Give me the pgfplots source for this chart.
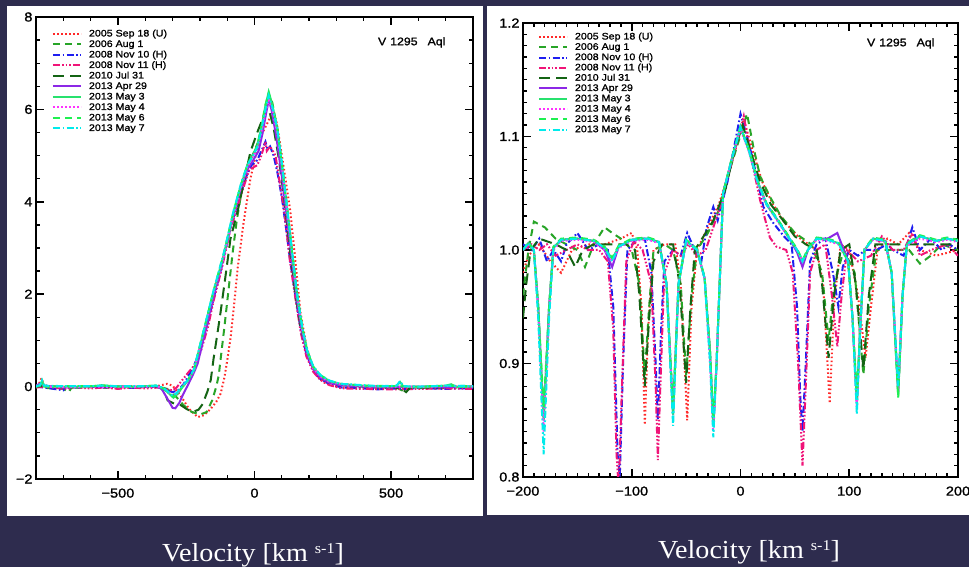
\documentclass[border=0pt]{standalone}
\usepackage{fontspec}
\setmainfont{Liberation Sans}[FakeStretch=1.12, FakeBold=1.3]
\newfontfamily\velfont{Liberation Serif}[FakeStretch=1.08]
\usepackage{pgfplots}
\pgfplotsset{compat=1.18}
\definecolor{bg}{RGB}{46,44,78}
\definecolor{c1}{RGB}{255,40,40}
\definecolor{c2}{RGB}{40,165,40}
\definecolor{c3}{RGB}{30,30,240}
\definecolor{c4}{RGB}{240,20,120}
\definecolor{c5}{RGB}{20,100,20}
\definecolor{c6}{RGB}{140,40,230}
\definecolor{c7}{RGB}{40,225,110}
\definecolor{c8}{RGB}{255,50,255}
\definecolor{c9}{RGB}{30,240,80}
\definecolor{c10}{RGB}{0,235,235}
\newcommand{\legfont}{\fontsize{9.5}{10}\selectfont}
\newcommand{\tickfont}{\fontsize{13}{15}\selectfont}
\tikzset{
 s1/.style={c1, line width=2pt, dash pattern=on 1.6pt off 2.4pt},
 s2/.style={c2, line width=2pt, dash pattern=on 7pt off 5pt},
 s3/.style={c3, line width=2pt, dash pattern=on 7pt off 2.5pt on 1.6pt off 2.5pt},
 s4/.style={c4, line width=2pt, dash pattern=on 7pt off 2pt on 1.6pt off 2pt on 1.6pt off 2pt on 1.6pt off 2pt},
 s5/.style={c5, line width=2pt, dash pattern=on 11pt off 6pt},
 s6/.style={c6, line width=2pt},
 s7/.style={c7, line width=2pt},
 s8/.style={c8, line width=2pt, dash pattern=on 1.6pt off 2.4pt},
 s9/.style={c9, line width=2pt, dash pattern=on 7pt off 5pt},
 s10/.style={c10, line width=2pt, dash pattern=on 7pt off 2.5pt on 1.6pt off 2.5pt},
}
\pgfplotsset{
 idl/.style={
  scale only axis, anchor=south west,
  tick align=inside, xtick pos=both, ytick pos=both,
  major tick length=8pt, minor tick length=4pt,
  major tick style={black, line width=1.6pt},
  minor tick style={black, line width=1.3pt},
  axis line style={black, line width=2pt},
  tick label style={font=\tickfont, black},
  xticklabel style={yshift=-6pt},
  legend cell align=left,
  legend image code/.code={\draw[##1] (0pt,0pt) -- (28pt,0pt);},
  legend style={draw=none, fill=none, anchor=north west, inner sep=0pt, outer sep=0pt,
    row sep=1.5pt, font=\legfont,
    nodes={inner sep=0pt, text height=7pt, text depth=2pt},
    /tikz/every odd column/.append style={column sep=7pt}},
 }
}
\begin{document}
\begin{tikzpicture}
\useasboundingbox (0pt,0pt) rectangle (969pt,567pt);
\fill[bg] (0pt,0pt) rectangle (969pt,567pt);
\fill[white] (7pt,51pt) rectangle (483pt,561pt);
\fill[white] (487pt,52pt) rectangle (969pt,561pt);
% ---------------- left panel ----------------
\begin{axis}[idl, at={(36pt,88pt)}, width=437pt, height=462pt,
  xmin=-800, xmax=800, ymin=-2, ymax=8,
  xtick={-500,0,500}, xticklabels={−500,0,500},
  minor xtick={-800,-700,...,800},
  ytick={-2,0,2,4,6,8}, yticklabels={−2,0,2,4,6,8},
  minor ytick={-2,-1.5,...,8},
  legend style={at={(0,1)}, xshift=16pt, yshift=-12.5pt},
  legend entries={2005 Sep 18 (U),2006 Aug 1,2008 Nov 10 (H),2008 Nov 11 (H),2010 Jul 31,2013 Apr 29,2013 May 3,2013 May 4,2013 May 6,2013 May 7}]
\addplot[s1] coordinates {(-800,0.02) (-790,0.05) (-780,0.18) (-770,0.02) (-740,0.0) (-700,-0.02) (-650,0.0) (-600,-0.02) (-550,0.0) (-500,-0.03) (-450,0.0) (-400,-0.02) (-350,0.02) (-320,0.06) (-300,0.02) (-270,-0.2) (-240,-0.48) (-208,-0.66) (-185,-0.62) (-160,-0.48) (-140,-0.33) (-124,-0.15) (-110,0.2) (-99,0.6) (-88,1.04) (-75,1.75) (-62,2.55) (-40,3.55) (-15,4.5) (10,5.15) (30,5.5) (47,5.7) (66,5.95) (80,5.75) (95,5.2) (112,4.55) (131,3.8) (150,2.7) (168,1.62) (190,0.88) (217,0.32) (250,0.1) (277,0.03) (320,-0.02) (400,-0.02) (500,-0.03) (600,-0.02) (700,-0.03) (800,-0.02)};
\addplot[s2] coordinates {(-800,0) (-780,0.03) (-760,-0.03) (-700,-0.05) (-680,-0.12) (-670,-0.02) (-600,0) (-550,-0.03) (-500,0) (-450,-0.02) (-400,0) (-350,0) (-320,-0.05) (-290,-0.2) (-260,-0.4) (-230,-0.55) (-197,-0.6) (-175,-0.55) (-155,-0.3) (-140,0.0) (-131,0.24) (-124,0.6) (-110,1.3) (-95,2.1) (-80,2.9) (-65,3.6) (-45,4.3) (-25,4.8) (0,5.1) (20,5.4) (38,5.9) (52,6.3) (65,6.15) (83,5.6) (100,4.85) (120,3.85) (140,2.8) (156,2.0) (175,1.25) (193,0.78) (215,0.42) (241,0.22) (275,0.1) (314,0.04) (400,0.0) (460,-0.03) (520,-0.02) (540,-0.08) (560,-0.01) (600,-0.02) (700,0) (800,-0.02)};
\addplot[s3] coordinates {(-800,0) (-770,-0.02) (-700,-0.08) (-690,0.0) (-640,-0.03) (-600,0) (-550,-0.02) (-500,0) (-450,-0.03) (-400,0) (-360,0) (-330,-0.05) (-300,-0.12) (-280,-0.08) (-260,0.05) (-240,0.25) (-222,0.45) (-197,0.8) (-170,1.4) (-150,1.9) (-120,2.6) (-90,3.4) (-60,4.0) (-30,4.55) (-10,4.8) (10,4.9) (25,5.1) (40,5.3) (47,5.15) (57,5.2) (70,5.0) (85,4.6) (100,4.1) (115,3.45) (130,2.75) (150,1.95) (170,1.2) (190,0.7) (215,0.35) (240,0.17) (275,0.05) (320,-0.02) (400,-0.04) (450,-0.06) (500,-0.04) (550,-0.05) (600,-0.03) (700,-0.05) (800,-0.03)};
\addplot[s4] coordinates {(-800,-0.02) (-760,0.0) (-700,-0.05) (-650,-0.02) (-600,-0.04) (-550,-0.02) (-500,-0.05) (-450,-0.02) (-400,-0.04) (-350,-0.02) (-320,-0.06) (-300,-0.08) (-285,-0.02) (-270,0.1) (-250,0.25) (-222,0.45) (-197,0.75) (-170,1.3) (-150,1.85) (-120,2.55) (-90,3.35) (-60,3.95) (-30,4.5) (-19,4.7) (10,4.79) (25,5.0) (40,5.3) (45,5.1) (57,5.2) (77,5.0) (90,4.5) (105,3.95) (113,3.6) (130,2.7) (150,1.9) (170,1.15) (190,0.65) (215,0.32) (240,0.15) (275,0.03) (320,-0.04) (400,-0.05) (500,-0.06) (600,-0.05) (700,-0.04) (800,-0.05)};
\addplot[s5] coordinates {(-800,0) (-760,0.02) (-700,-0.02) (-600,0.0) (-500,0.0) (-400,0.0) (-350,0.0) (-330,-0.1) (-318,-0.3) (-290,-0.38) (-270,-0.4) (-250,-0.48) (-227,-0.55) (-205,-0.5) (-190,-0.38) (-172,-0.1) (-160,0.15) (-150,0.6) (-137,1.1) (-124,1.62) (-106,2.4) (-88,3.2) (-62,3.79) (-40,4.4) (-15,5.08) (10,5.5) (30,5.8) (45,6.05) (55,5.95) (70,5.6) (90,4.9) (110,4.0) (131,2.9) (150,2.0) (170,1.25) (190,0.78) (215,0.4) (241,0.2) (275,0.08) (320,0.03) (400,0.0) (500,0.0) (540,-0.05) (555,-0.12) (570,-0.02) (650,-0.02) (800,0)};
\addplot[s6] coordinates {(-800,0.02) (-780,0.08) (-770,0.02) (-700,-0.02) (-600,0.0) (-500,0.0) (-400,0.0) (-360,0.01) (-340,-0.05) (-320,-0.25) (-300,-0.46) (-290,-0.47) (-275,-0.35) (-260,-0.15) (-245,0.02) (-222,0.3) (-208,0.5) (-190,0.95) (-150,1.95) (-113,2.8) (-76,3.75) (-50,4.3) (-26,4.7) (-5,4.9) (15,5.1) (30,5.5) (42,5.9) (52,6.2) (62,6.0) (80,5.4) (100,4.55) (120,3.6) (140,2.6) (156,1.85) (175,1.15) (193,0.7) (215,0.38) (241,0.2) (275,0.08) (314,0.03) (400,0.0) (500,-0.01) (600,0.0) (700,-0.01) (800,0.0)};
\addplot[s7] coordinates {(-800,0) (-785,0.02) (-778,0.13) (-770,0.01) (-740,-0.01) (-700,0.0) (-650,-0.02) (-600,0.0) (-560,0.03) (-500,0.0) (-450,-0.01) (-400,0.01) (-360,0.02) (-335,-0.04) (-315,-0.14) (-297,-0.24) (-282,-0.16) (-265,-0.02) (-245,0.12) (-222,0.35) (-190,1.1) (-150,2.05) (-113,2.84) (-76,3.79) (-50,4.35) (-26,4.79) (-5,5.02) (10,5.2) (25,5.6) (40,6.08) (52,6.38) (65,6.1) (83,5.58) (100,4.8) (120,3.79) (140,2.75) (156,1.97) (175,1.25) (193,0.76) (215,0.42) (241,0.24) (275,0.12) (314,0.06) (400,0.02) (460,0.0) (520,0.01) (533,0.1) (545,0.0) (600,-0.02) (700,0.02) (720,0.05) (740,-0.01) (800,0.0)};
\addplot[s8] coordinates {(-800,0) (-780,0.06) (-770,0.0) (-700,-0.01) (-600,0.0) (-500,-0.01) (-400,0.0) (-360,0.01) (-335,-0.03) (-315,-0.12) (-297,-0.2) (-282,-0.14) (-265,0.0) (-245,0.13) (-222,0.34) (-190,1.08) (-150,2.02) (-113,2.8) (-76,3.75) (-50,4.3) (-26,4.75) (-5,4.98) (10,5.15) (25,5.5) (40,5.95) (52,6.2) (65,6.0) (83,5.5) (100,4.75) (120,3.75) (140,2.72) (156,1.95) (175,1.22) (193,0.74) (215,0.4) (241,0.22) (275,0.1) (314,0.05) (400,0.01) (500,0.0) (600,-0.01) (700,0.01) (800,0.0)};
\addplot[s9] coordinates {(-800,0) (-785,0.03) (-778,0.12) (-770,0.0) (-700,0.01) (-600,0.01) (-550,0.02) (-500,0.0) (-400,0.01) (-360,0.02) (-335,-0.03) (-315,-0.13) (-297,-0.22) (-282,-0.15) (-265,-0.01) (-245,0.13) (-222,0.36) (-190,1.12) (-150,2.07) (-113,2.86) (-76,3.8) (-50,4.36) (-26,4.8) (-5,5.03) (10,5.22) (25,5.62) (40,6.1) (52,6.35) (65,6.08) (83,5.6) (100,4.82) (120,3.82) (140,2.78) (156,1.99) (175,1.27) (193,0.77) (215,0.43) (241,0.25) (275,0.12) (314,0.06) (400,0.02) (500,0.01) (600,0.0) (700,0.02) (800,0.01)};
\addplot[s10] coordinates {(-800,0.01) (-785,0.03) (-778,0.14) (-770,0.02) (-700,0.01) (-600,0.01) (-560,0.02) (-500,0.01) (-400,0.01) (-360,0.02) (-335,-0.02) (-315,-0.12) (-300,-0.2) (-285,-0.14) (-265,0.0) (-245,0.14) (-222,0.37) (-190,1.12) (-150,2.08) (-113,2.88) (-76,3.82) (-50,4.38) (-26,4.8) (-5,5.0) (10,5.18) (25,5.55) (40,6.0) (52,6.3) (65,6.05) (83,5.6) (100,4.85) (120,3.85) (140,2.8) (156,2.0) (175,1.28) (193,0.78) (215,0.44) (241,0.25) (275,0.13) (314,0.06) (400,0.03) (460,0.01) (520,0.02) (533,0.12) (545,0.01) (600,0.0) (700,0.02) (800,0.01)};
\node[anchor=east, font=\fontsize{11}{12}\selectfont] at (axis cs:712,7.45) {V\hspace{4pt}1295\hspace{10pt}Aql};
\end{axis}
% ---------------- right panel ----------------
\begin{axis}[idl, at={(523pt,90pt)}, width=435pt, height=454pt,
  xmin=-200, xmax=200, ymin=0.8, ymax=1.2,
  xtick={-200,-100,0,100,200}, xticklabels={−200,−100,0,100,200},
  minor xtick={-200,-190,...,200},
  ytick={0.8,0.9,1.0,1.1,1.2}, yticklabels={0.8,0.9,1.0,1.1,1.2},
  minor ytick={0.8,0.81,...,1.2},
  legend style={at={(0,1)}, xshift=15pt, yshift=-9.5pt, row sep=1.3pt},
  legend entries={2005 Sep 18 (U),2006 Aug 1,2008 Nov 10 (H),2008 Nov 11 (H),2010 Jul 31,2013 Apr 29,2013 May 3,2013 May 4,2013 May 6,2013 May 7}]
\addplot[s1] coordinates {(-200,0.98) (-195,0.995) (-185,1.005) (-175,0.99) (-165,0.98) (-155,1.0) (-140,1.005) (-125,1.005) (-110,1.01) (-100,1.015) (-95,1.0) (-91,0.95) (-88,0.846) (-85,0.93) (-80,1.0) (-70,1.005) (-60,1.005) (-55,0.97) (-49,0.85) (-45,0.95) (-40,1.0) (-30,1.02) (-20,1.04) (-10,1.07) (3,1.115) (12,1.085) (20,1.06) (30,1.04) (40,1.025) (55,1.01) (70,1.0) (76,0.97) (82,0.865) (86,0.95) (92,1.005) (100,1.0) (108,0.96) (115,0.905) (120,0.95) (126,1.0) (135,1.01) (145,1.005) (155,1.015) (165,1.0) (180,0.995) (200,1.0)};
\addplot[s2] coordinates {(-200,0.96) (-195,1.0) (-190,1.025) (-180,1.02) (-170,1.01) (-160,1.005) (-150,1.0) (-143,0.985) (-135,1.005) (-125,1.02) (-118,1.015) (-110,1.01) (-100,1.0) (-93,0.97) (-88,0.89) (-84,0.95) (-80,1.0) (-70,1.005) (-62,1.0) (-55,0.97) (-50,0.89) (-45,0.96) (-40,1.0) (-30,1.015) (-20,1.035) (-10,1.07) (6,1.12) (12,1.09) (18,1.065) (27,1.047) (37,1.03) (50,1.015) (65,1.005) (75,0.98) (81,0.92) (86,0.97) (95,1.0) (105,0.98) (113,0.89) (118,0.95) (125,1.0) (140,1.0) (155,1.0) (165,0.988) (175,0.995) (185,1.005) (200,1.0)};
\addplot[s3] coordinates {(-200,1.005) (-192,1.0) (-185,1.01) (-178,0.99) (-172,1.0) (-165,0.99) (-160,1.005) (-150,1.015) (-140,1.0) (-130,1.005) (-122,1.0) (-117,0.95) (-113,0.82) (-111,0.80) (-108,0.9) (-104,1.0) (-95,1.01) (-88,1.01) (-82,0.98) (-78,0.9) (-76,0.85) (-73,0.93) (-70,0.99) (-62,1.0) (-55,0.995) (-49,1.015) (-42,1.0) (-36,0.99) (-31,1.02) (-25,1.038) (-21,1.026) (-12,1.06) (0,1.12) (6,1.1) (12,1.077) (21,1.038) (30,1.024) (40,1.012) (47,1.005) (52,0.95) (55,0.87) (57,0.84) (60,0.9) (64,0.99) (70,1.005) (78,1.01) (85,0.98) (90,0.95) (94,0.985) (100,1.0) (108,0.995) (115,1.0) (125,1.0) (135,1.005) (140,1.0) (150,0.995) (158,1.02) (165,1.0) (175,1.01) (185,1.0) (192,1.005) (200,1.0)};
\addplot[s4] coordinates {(-200,1.0) (-192,1.005) (-185,1.0) (-178,1.005) (-170,0.995) (-160,1.0) (-150,1.005) (-140,1.0) (-130,1.0) (-122,0.99) (-117,0.93) (-114,0.82) (-112,0.79) (-109,0.88) (-105,0.99) (-98,1.008) (-90,1.0) (-82,0.97) (-78,0.88) (-76,0.815) (-73,0.9) (-70,0.98) (-62,1.0) (-55,0.995) (-48,1.005) (-40,0.995) (-32,1.0) (-25,1.02) (-18,1.04) (-10,1.07) (3,1.118) (10,1.08) (18,1.044) (27,1.011) (33,1.003) (42,1.0) (48,0.98) (53,0.9) (57,0.81) (60,0.88) (64,0.98) (70,1.0) (78,1.005) (84,0.96) (89,0.915) (93,0.96) (98,1.0) (108,0.99) (120,0.995) (130,1.012) (140,1.0) (150,1.0) (158,1.015) (165,0.995) (175,1.0) (190,1.005) (200,0.995)};
\addplot[s5] coordinates {(-200,0.94) (-197,0.97) (-193,1.0) (-185,1.01) (-170,1.005) (-160,1.0) (-152,0.985) (-145,1.0) (-135,1.005) (-120,1.005) (-105,1.005) (-97,1.0) (-93,0.96) (-88,0.88) (-84,0.94) (-80,0.99) (-72,1.005) (-62,1.005) (-56,0.97) (-50,0.883) (-46,0.95) (-42,1.0) (-34,1.012) (-25,1.026) (-14,1.053) (-5,1.09) (2,1.11) (10,1.085) (18,1.06) (28,1.04) (40,1.025) (50,1.012) (60,1.005) (70,1.0) (75,0.97) (81,0.905) (86,0.96) (92,1.0) (100,1.005) (106,0.97) (113,0.895) (118,0.96) (124,1.005) (135,1.005) (150,1.005) (165,1.005) (180,1.005) (200,1.005)};
\addplot[s6] coordinates {(-200,1.0) (-195,1.006) (-190,1.0) (-186,0.95) (-181,0.85) (-176,0.95) (-172,1.002) (-165,1.009) (-150,1.01) (-135,1.008) (-125,1.0) (-118,0.985) (-112,1.003) (-100,1.009) (-85,1.01) (-75,1.007) (-68,0.97) (-62,0.855) (-57,0.97) (-50,1.008) (-40,1.0) (-33,0.975) (-28,0.91) (-25,0.845) (-22,0.9) (-19,0.975) (-16,1.05) (-8,1.08) (0,1.108) (8,1.087) (15,1.062) (24,1.04) (35,1.025) (45,1.01) (52,0.998) (57,0.985) (62,1.0) (70,1.01) (80,1.01) (89,1.015) (95,1.0) (99,0.99) (103,0.94) (107,0.865) (110,0.93) (114,1.0) (122,1.01) (133,1.008) (139,0.98) (145,0.875) (149,0.96) (153,1.005) (165,1.012) (180,1.008) (190,1.01) (200,1.008)};
\addplot[s7] coordinates {(-200,1.0) (-195,1.006) (-190,1.0) (-186,0.95) (-181,0.85) (-176,0.95) (-172,1.002) (-165,1.009) (-150,1.01) (-135,1.008) (-125,1.002) (-118,0.992) (-112,1.003) (-100,1.009) (-85,1.01) (-75,1.007) (-68,0.97) (-62,0.855) (-57,0.97) (-50,1.008) (-40,1.0) (-33,0.975) (-28,0.91) (-25,0.845) (-22,0.9) (-19,0.975) (-16,1.05) (-8,1.08) (0,1.108) (8,1.087) (15,1.062) (24,1.04) (35,1.025) (45,1.01) (52,1.0) (57,0.99) (62,1.0) (70,1.01) (80,1.009) (90,1.006) (99,0.99) (103,0.94) (107,0.865) (110,0.93) (114,1.0) (122,1.01) (133,1.008) (139,0.98) (145,0.872) (149,0.96) (153,1.005) (165,1.012) (180,1.008) (190,1.01) (200,1.008)};
\addplot[s8] coordinates {(-200,1.0) (-195,1.005) (-190,1.0) (-186,0.95) (-181,0.84) (-176,0.95) (-172,1.0) (-165,1.008) (-150,1.009) (-135,1.007) (-125,1.0) (-118,0.99) (-112,1.002) (-100,1.008) (-85,1.009) (-75,1.006) (-68,0.97) (-62,0.86) (-57,0.97) (-50,1.007) (-40,1.0) (-33,0.975) (-28,0.9) (-25,0.84) (-22,0.9) (-19,0.975) (-16,1.05) (-8,1.08) (0,1.107) (8,1.086) (15,1.061) (24,1.04) (35,1.024) (45,1.01) (52,1.0) (57,0.99) (62,1.0) (70,1.009) (80,1.008) (90,1.005) (99,0.99) (103,0.94) (107,0.86) (110,0.93) (114,1.0) (122,1.009) (133,1.007) (139,0.98) (145,0.875) (149,0.96) (153,1.004) (165,1.01) (180,1.007) (190,1.009) (200,1.007)};
\addplot[s9] coordinates {(-200,1.0) (-195,1.007) (-190,1.0) (-186,0.95) (-181,0.86) (-176,0.95) (-172,1.003) (-165,1.01) (-150,1.011) (-135,1.009) (-125,1.003) (-118,0.993) (-112,1.004) (-100,1.01) (-85,1.011) (-75,1.008) (-68,0.97) (-62,0.86) (-57,0.97) (-50,1.009) (-40,1.001) (-33,0.976) (-28,0.91) (-25,0.85) (-22,0.9) (-19,0.976) (-16,1.05) (-8,1.081) (0,1.109) (8,1.088) (15,1.063) (24,1.041) (35,1.026) (45,1.011) (52,1.001) (57,0.991) (62,1.001) (70,1.011) (80,1.01) (90,1.007) (99,0.99) (103,0.94) (107,0.87) (110,0.93) (114,1.001) (122,1.011) (133,1.009) (139,0.98) (145,0.87) (149,0.96) (153,1.006) (165,1.013) (180,1.009) (190,1.011) (200,1.009)};
\addplot[s10] coordinates {(-200,1.0) (-195,1.006) (-190,1.0) (-186,0.94) (-181,0.82) (-176,0.94) (-172,1.002) (-165,1.009) (-150,1.01) (-135,1.008) (-125,1.002) (-118,0.99) (-112,1.003) (-100,1.009) (-85,1.01) (-75,1.007) (-68,0.97) (-62,0.845) (-57,0.97) (-50,1.008) (-40,1.0) (-33,0.975) (-28,0.9) (-25,0.835) (-22,0.9) (-19,0.975) (-16,1.05) (-8,1.08) (0,1.108) (8,1.087) (15,1.062) (24,1.04) (35,1.025) (45,1.01) (52,1.0) (57,0.99) (62,1.0) (70,1.01) (80,1.009) (90,1.006) (99,0.99) (103,0.94) (107,0.855) (110,0.93) (114,1.0) (122,1.01) (133,1.008) (139,0.98) (145,0.88) (149,0.96) (153,1.005) (165,1.012) (180,1.008) (190,1.01) (200,1.008)};
\node[anchor=east, font=\fontsize{11}{12}\selectfont] at (axis cs:181.6,1.182) {V\hspace{4pt}1295\hspace{10pt}Aql};
\end{axis}
% ---------------- bottom labels ----------------
\node[anchor=base, text=white, font=\velfont\fontsize{26}{30}\selectfont] at (253pt,5.5pt) {Velocity [km \raisebox{8pt}{\fontsize{15}{18}\selectfont s-1}]};
\node[anchor=base, text=white, font=\velfont\fontsize{26}{30}\selectfont] at (749pt,8pt) {Velocity [km \raisebox{8pt}{\fontsize{15}{18}\selectfont s-1}]};
\end{tikzpicture}
\end{document}
